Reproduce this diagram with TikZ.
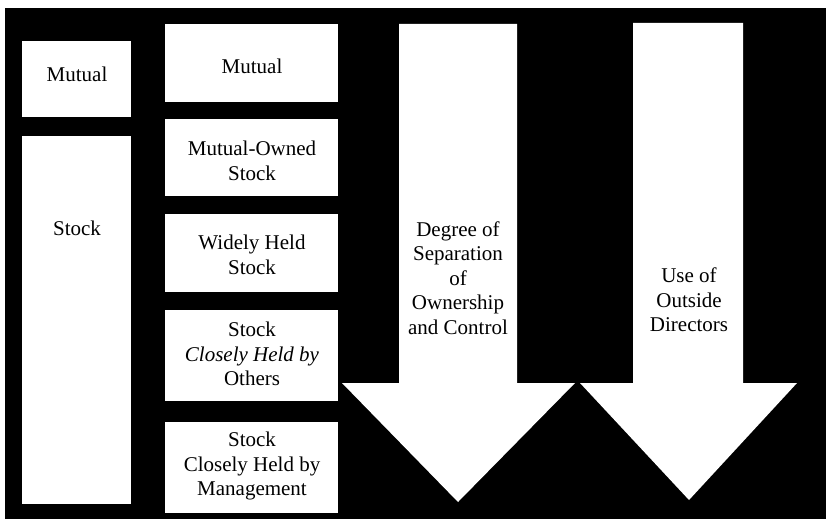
\documentclass[tikz,border=0pt]{standalone}
\usepackage{fontspec}
\setmainfont{Liberation Serif}
\begin{document}
\begin{tikzpicture}[x=1pt,y=-1pt,
  box/.style={fill=white,draw=none},
  lbl/.style={align=center,font=\fontsize{21}{24.5}\selectfont,inner sep=0pt,text=black},
  bigarrow/.style={fill=white,draw=none}]
\useasboundingbox (0,0) rectangle (826,519);
\fill[white] (0,0) rectangle (826,519);
\fill[black] (5,8) rectangle (826,519);
% left column
\fill[box] (22,41) rectangle (131,117);
\node[lbl] (lmutual) at (77,74) {Mutual};
\fill[box] (22,136) rectangle (131,504);
\node[lbl] (lstock) at (77,228) {Stock};
% middle column
\fill[box] (165,24) rectangle (338,102);
\node[lbl] (mmutual) at (252,66) {Mutual};
\fill[box] (165,119) rectangle (338,196);
\node[lbl] (mown) at (252,161) {Mutual-Owned\\Stock};
\fill[box] (165,214) rectangle (338,292);
\node[lbl] (mwide) at (252,255) {Widely Held\\Stock};
\fill[box] (165,310) rectangle (338,401);
\node[lbl] (mothers) at (252,354) {Stock\\\textit{Closely Held by}\\Others};
\fill[box] (165,422) rectangle (338,513);
\node[lbl] (mmgmt) at (252,466) {Stock\\Closely Held by\\Management};
% arrows
\fill[bigarrow] (399,24) -- (517,24) -- (517,383) -- (575,383) -- (458,502) -- (342,383) -- (399,383) -- cycle;
\node[lbl] (sep) at (458,278) {Degree of\\Separation\\of\\Ownership\\and Control};
\fill[bigarrow] (633,23) -- (743,23) -- (743,383) -- (797,383) -- (689,500) -- (580,383) -- (633,383) -- cycle;
\node[lbl] (dir) at (689,300) {Use of\\Outside\\Directors};
\end{tikzpicture}
\end{document}
